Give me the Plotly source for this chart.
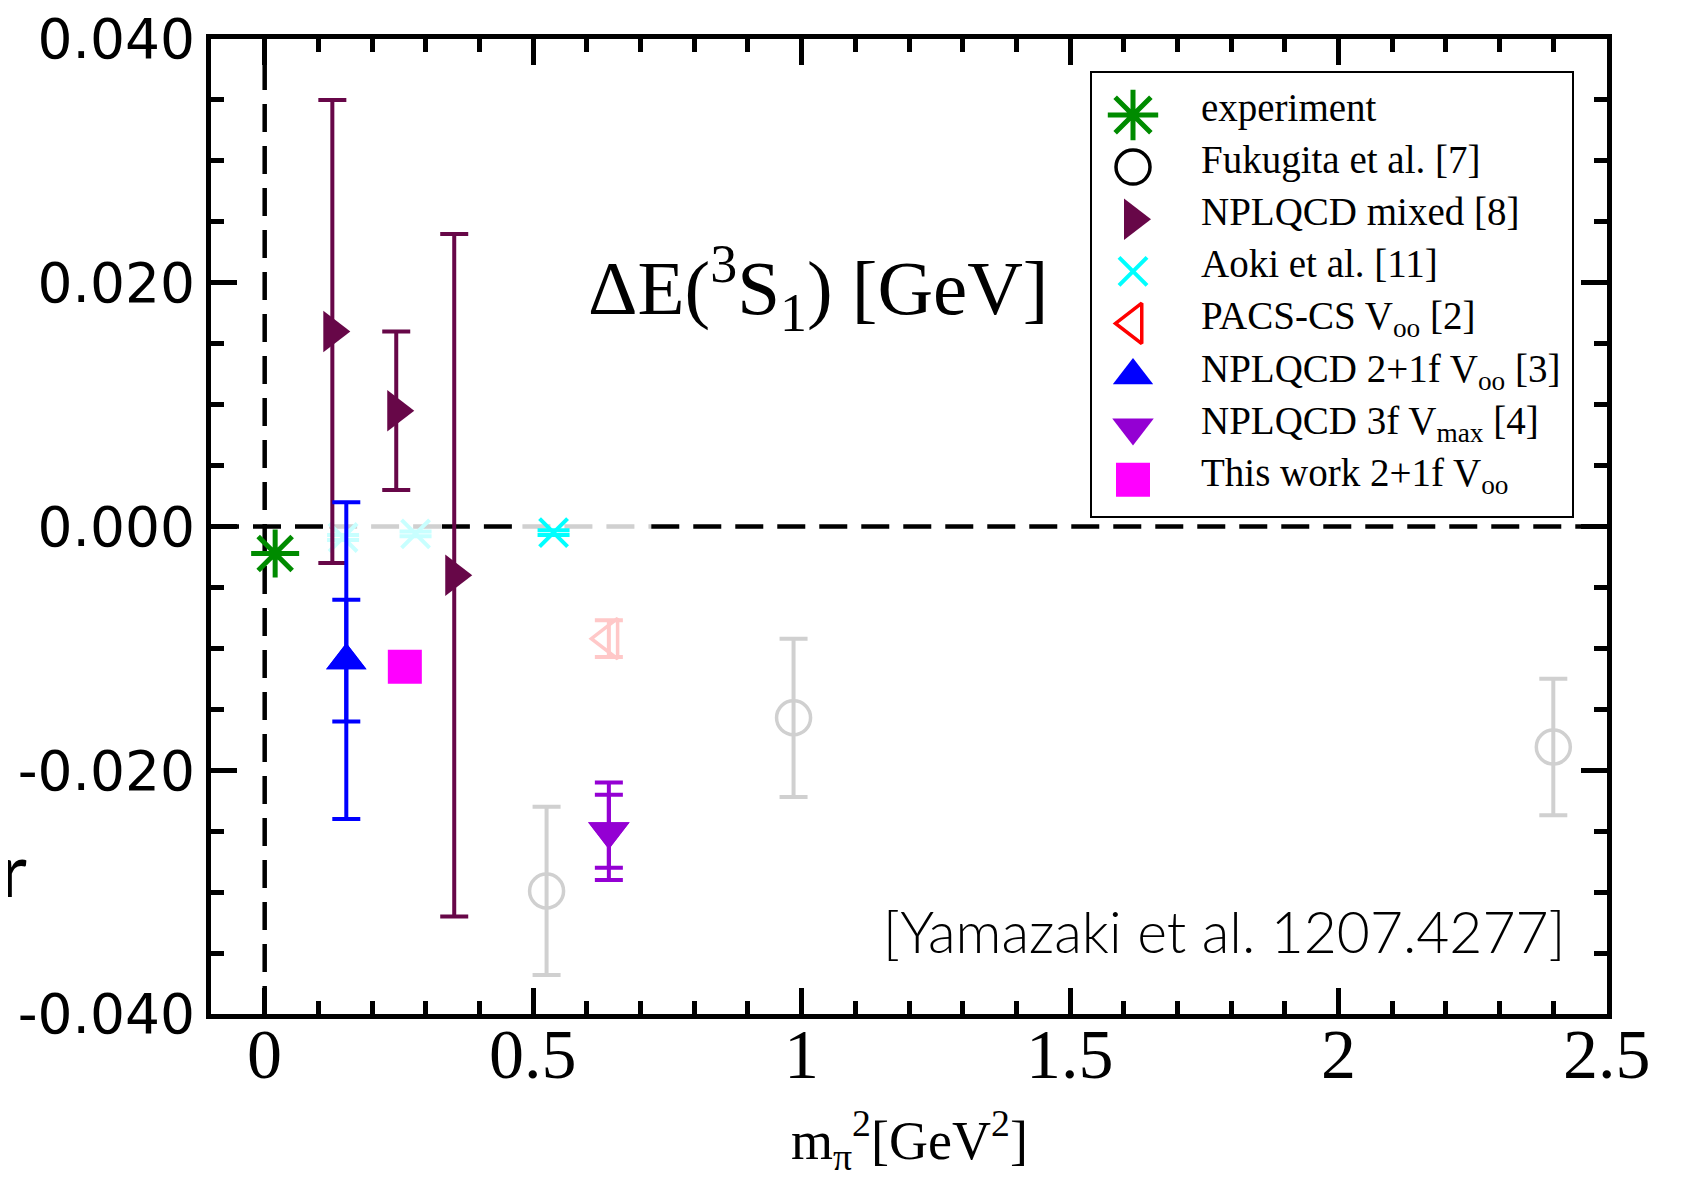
import plotly.graph_objects as go

# ---------------- data ----------------
exp_x = [0.0195]
exp_y = [-0.00222]

fuk_x = [0.525, 0.985, 2.400]
fuk_y = [-0.0299, -0.0157, -0.0181]
fuk_err = [0.0069, 0.0065, 0.0056]

mix_x = [0.126, 0.245, 0.353]
mix_y = [0.0160, 0.0095, -0.0040]
mix_err = [0.0190, 0.0065, 0.0280]

aoki_x = [0.146, 0.281, 0.538]
aoki_y = [-0.0009, -0.0006, -0.0005]
aoki_err = [0.0002, 0.0002, 0.0002]

pacs_x = [0.641]
pacs_y = [-0.0092]
pacs_err = [0.0015]

n21_x = [0.152]
n21_y = [-0.0110]
n21_stat = [0.0050]
n21_tot = [0.0130]

n3_x = [0.641]
n3_y = [-0.0250]
n3_stat = [0.0030]
n3_tot = [0.0040]

tw_x = [0.261]
tw_y = [-0.0115]
tw_err = [0.0011]

legend_labels = [
    "experiment",
    "Fukugita et al. [7]",
    "NPLQCD mixed [8]",
    "Aoki et al. [11]",
    "PACS-CS V<sub>oo</sub> [2]",
    "NPLQCD 2+1f V<sub>oo</sub> [3]",
    "NPLQCD 3f V<sub>max</sub> [4]",
    "This work 2+1f V<sub>oo</sub>",
]

x_tickvals = [0, 0.5, 1, 1.5, 2, 2.5]
x_ticktext = ["0", "0.5", "1", "1.5", "2", "2.5"]
y_tickvals = [-0.04, -0.02, 0.0, 0.02, 0.04]
y_ticktext = ["-0.040", "-0.020", "0.000", "0.020", "0.040"]

# ---------------- layout constants (reference-image pixels) ----------------
OFF = 8                      # page body margin of the html page
W, H = 1682 - OFF, 1180 - OFF
RL, RR, RT, RB = 211, 1607, 39, 1014     # plot area in reference coords
L, R, T, B = RL - OFF, RR - OFF, RT - OFF, RB - OFF
PW, PH = R - L, B - T

def px_x(p):            # reference pixel x -> paper
    return (p - OFF - L) / PW

def px_y(p):            # reference pixel y -> paper
    return (B - (p - OFF)) / PH

SERIF = "Liberation Serif"
SANS = "DejaVu Sans"
THIN = "Lato"

C_EXP = "#008b00"
C_MIX = "#670748"
C_CYAN = "#00ffff"
C_CYAN_F = "#c8ffff"
C_GREY = "#d0d0d0"
C_PINK = "#ffc8c8"
C_BLUE = "#0000ff"
C_VIOL = "#9400d3"
C_MAG = "#ff00ff"

EB_W = 14
EB_T = 4

fig = go.Figure()

def err(arr, color, width=EB_W):
    return dict(type="data", array=arr, visible=True, color=color,
                thickness=EB_T, width=width)

# Fukugita (faded grey)
fig.add_trace(go.Scatter(
    x=fuk_x, y=fuk_y, mode="markers", error_y=err(fuk_err, C_GREY),
    marker=dict(symbol="circle-open", size=34, color=C_GREY,
                line=dict(width=3.5, color=C_GREY)),
    showlegend=False, hoverinfo="skip"))

# PACS-CS (faded pink)
fig.add_trace(go.Scatter(
    x=pacs_x, y=pacs_y, mode="markers", error_y=err(pacs_err, C_PINK),
    marker=dict(symbol="triangle-left-open", size=35, color=C_PINK,
                line=dict(width=3.5, color=C_PINK)),
    showlegend=False, hoverinfo="skip"))

# Aoki (first two faded)
aoki_cols = [C_CYAN_F, C_CYAN_F, C_CYAN]
for i in range(len(aoki_x)):
    fig.add_trace(go.Scatter(
        x=[aoki_x[i]], y=[aoki_y[i]], mode="markers",
        error_y=err([aoki_err[i]], aoki_cols[i], 16),
        marker=dict(symbol="x-thin-open", size=28, color=aoki_cols[i],
                    line=dict(width=4, color=aoki_cols[i])),
        showlegend=False, hoverinfo="skip"))

# NPLQCD mixed
fig.add_trace(go.Scatter(
    x=mix_x, y=mix_y, mode="markers", error_y=err(mix_err, C_MIX),
    marker=dict(symbol="triangle-right", size=36, color=C_MIX, line=dict(width=0)),
    showlegend=False, hoverinfo="skip"))

# NPLQCD 2+1f (total + stat)
for e in (n21_tot, n21_stat):
    fig.add_trace(go.Scatter(
        x=n21_x, y=n21_y, mode="markers", error_y=err(e, C_BLUE),
        marker=dict(symbol="triangle-up", size=35, color=C_BLUE, line=dict(width=0)),
        showlegend=False, hoverinfo="skip"))

# This work
fig.add_trace(go.Scatter(
    x=tw_x, y=tw_y, mode="markers", error_y=err(tw_err, C_MAG),
    marker=dict(symbol="square", size=34, color=C_MAG, line=dict(width=0)),
    showlegend=False, hoverinfo="skip"))

# NPLQCD 3f (total + stat)
for e in (n3_tot, n3_stat):
    fig.add_trace(go.Scatter(
        x=n3_x, y=n3_y, mode="markers", error_y=err(e, C_VIOL),
        marker=dict(symbol="triangle-down", size=36, color=C_VIOL, line=dict(width=0)),
        showlegend=False, hoverinfo="skip"))

# experiment
fig.add_trace(go.Scatter(
    x=exp_x, y=exp_y, mode="markers",
    marker=dict(symbol="asterisk-open", size=40, color=C_EXP,
                line=dict(width=5, color=C_EXP)),
    showlegend=False, hoverinfo="skip"))

# ---------------- manual legend (pixel-space overlay axes) ----------------
leg_styles = [
    dict(symbol="asterisk-open", size=42, color=C_EXP, line=dict(width=5, color=C_EXP)),
    dict(symbol="circle-open", size=34, color="black", line=dict(width=3.5, color="black")),
    dict(symbol="triangle-right", size=36, color=C_MIX, line=dict(width=0)),
    dict(symbol="x-thin-open", size=28, color=C_CYAN, line=dict(width=4, color=C_CYAN)),
    dict(symbol="triangle-left-open", size=35, color="#ff0000", line=dict(width=3.5, color="#ff0000")),
    dict(symbol="triangle-up", size=35, color=C_BLUE, line=dict(width=0)),
    dict(symbol="triangle-down", size=36, color=C_VIOL, line=dict(width=0)),
    dict(symbol="square", size=34, color=C_MAG, line=dict(width=0)),
]
LEG_X0, LEG_X1, LEG_Y0, LEG_Y1 = 1091, 1573, 72, 517
LEG_MX, LEG_TX = 1133, 1199
LEG_BASE0, LEG_DY = 119, 52.1
LEG_FS = 39

for i, st in enumerate(leg_styles):
    base = LEG_BASE0 + LEG_DY * i
    fig.add_trace(go.Scatter(
        x=[LEG_MX], y=[base - 4], mode="markers", marker=st,
        xaxis="x2", yaxis="y2", showlegend=False, hoverinfo="skip"))

annotations = []
for i, lab in enumerate(legend_labels):
    base = LEG_BASE0 + LEG_DY * i
    annotations.append(dict(
        text=lab, xref="paper", yref="paper", x=px_x(LEG_TX), y=px_y(base - 35),
        xanchor="left", yanchor="top", showarrow=False,
        font=dict(family=SERIF, size=LEG_FS, color="black")))

# x tick labels
for v, t in zip(x_tickvals, x_ticktext):
    annotations.append(dict(
        text=t, xref="x", yref="paper", x=v, y=px_y(1014),
        xanchor="center", yanchor="top", showarrow=False,
        font=dict(family=SERIF, size=70, color="black")))

# main in-plot label
annotations.append(dict(
    text="ΔE(<sup>3</sup>S<sub>1</sub>) [GeV]", xref="paper", yref="paper",
    x=px_x(586), y=px_y(232), xanchor="left", yanchor="top", showarrow=False,
    font=dict(family=SERIF, size=77, color="black")))

# reference tag
annotations.append(dict(
    text="[Yamazaki et al. 1207.4277]", xref="paper", yref="paper",
    x=px_x(1567), y=px_y(931), xanchor="right", yanchor="middle", showarrow=False,
    font=dict(family=THIN, size=57, color="black", weight=300)))

# x-axis title
annotations.append(dict(
    text="m<sub>π</sub><sup>2</sup>[GeV<sup>2</sup>]", xref="paper", yref="paper",
    x=px_x(909), y=px_y(1100), xanchor="center", yanchor="top", showarrow=False,
    font=dict(family=SERIF, size=54, color="black")))

# cropped y-axis title remnant
annotations.append(dict(
    text="r", xref="paper", yref="paper",
    x=px_x(-2), y=px_y(868), xanchor="left", yanchor="middle", showarrow=False,
    font=dict(family=THIN, size=74, color="black")))

# ---------------- shapes ----------------
DASH = "28px,14px"
shapes = [
    dict(type="line", xref="x", yref="y", x0=0, x1=0, y0=-0.04, y1=0.04,
         line=dict(color="black", width=4.5, dash=DASH), layer="below"),
]
zero_segs = [(-0.1, 0.12, "black"), (0.12, 0.33, C_GREY), (0.33, 0.48, "black"),
             (0.48, 0.72, C_GREY), (0.72, 2.5, "black")]
for a, b, c in zero_segs:
    shapes.append(dict(type="line", xref="x", yref="y", x0=a, x1=b, y0=0, y1=0,
                       line=dict(color=c, width=4.5, dash=DASH), layer="below"))
shapes.append(dict(type="rect", xref="paper", yref="paper",
                   x0=px_x(LEG_X0), x1=px_x(LEG_X1), y0=px_y(LEG_Y1), y1=px_y(LEG_Y0),
                   line=dict(color="black", width=2), fillcolor="rgba(0,0,0,0)"))

axis_common = dict(
    showline=True, linecolor="black", linewidth=5, mirror="allticks",
    ticks="inside", ticklen=26, tickwidth=4.5, tickcolor="black",
    showgrid=False, zeroline=False, automargin=False,
)

fig.update_layout(
    width=W, height=H,
    margin=dict(l=L, r=W - R, t=T, b=H - B, pad=0, autoexpand=False),
    paper_bgcolor="white", plot_bgcolor="white",
    xaxis=dict(range=[-0.1, 2.5], tickmode="array", tickvals=x_tickvals, ticktext=x_ticktext,
               showticklabels=False,
               minor=dict(dtick=0.1, tick0=0, ticks="inside", ticklen=13, tickwidth=4.5,
                          tickcolor="black", showgrid=False),
               **axis_common),
    yaxis=dict(range=[-0.04, 0.04], tickmode="array", tickvals=y_tickvals, ticktext=y_ticktext,
               tickfont=dict(family=SANS, size=55, color="black"),
               ticklabeloverflow="allow",
               minor=dict(dtick=0.005, tick0=0, ticks="inside", ticklen=13, tickwidth=4.5,
                          tickcolor="black", showgrid=False),
               **axis_common),
    xaxis2=dict(overlaying="x", anchor="y2", range=[RL, RR], visible=False, fixedrange=True,
                automargin=False),
    yaxis2=dict(overlaying="y", anchor="x2", range=[RB, RT], visible=False, fixedrange=True,
                automargin=False),
    annotations=annotations,
    shapes=shapes,
)

fig.write_html("out.html")
